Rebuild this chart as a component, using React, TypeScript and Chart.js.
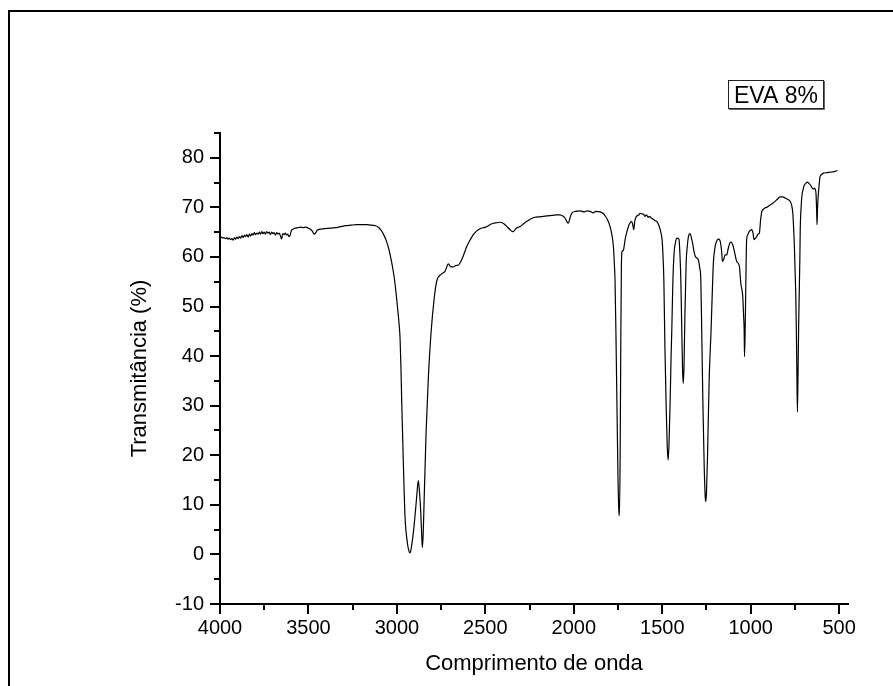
import React, { useEffect, useRef } from "react";
import { Chart, registerables } from "chart.js";

Chart.register(...registerables);

const wavenumber: number[] = [
  4000, 3992, 3985, 3978, 3970, 3962, 3955, 3948, 3940, 3933, 3925, 3918, 3911, 3904, 3897, 3890,
  3883, 3876, 3869, 3862, 3855, 3848, 3841, 3834, 3827, 3820, 3813, 3806, 3799, 3792, 3785, 3778,
  3771, 3764, 3757, 3750, 3743, 3736, 3729, 3722, 3715, 3708, 3701, 3694, 3687, 3680, 3673, 3666,
  3659, 3652, 3645, 3638, 3631, 3624, 3617, 3610, 3603, 3596, 3588, 3575, 3560, 3545, 3530, 3515,
  3500, 3490, 3478, 3468, 3460, 3450, 3435, 3410, 3380, 3350, 3320, 3290, 3260, 3230, 3200, 3170,
  3140, 3120, 3105, 3090, 3075, 3060, 3045, 3030, 3015, 3005, 2995, 2988, 2982, 2977, 2973, 2963, 2954,
  2941, 2933, 2926, 2918, 2907, 2897, 2888, 2879, 2872, 2865, 2860, 2856, 2851, 2846, 2835, 2822,
  2807, 2790, 2775, 2750, 2728, 2709, 2695, 2681, 2666, 2654, 2640, 2626, 2605, 2585, 2568, 2550,
  2530, 2510, 2492, 2470, 2455, 2435, 2417, 2400, 2389, 2375, 2360, 2350, 2342, 2330, 2315, 2304,
  2280, 2260, 2247, 2220, 2190, 2153, 2120, 2100, 2078, 2060, 2049, 2040, 2031, 2022, 2012, 1990,
  1965, 1940, 1925, 1908, 1890, 1875, 1852, 1835, 1823, 1808, 1795, 1785, 1776, 1770, 1767, 1762,
  1756, 1750, 1745, 1742, 1738, 1734, 1731, 1728, 1720, 1717, 1710, 1702, 1690, 1683, 1674, 1668,
  1661, 1655, 1646, 1635, 1625, 1617, 1605, 1598, 1589, 1580, 1572, 1561, 1550, 1540, 1532, 1523,
  1514, 1507, 1501, 1496, 1491, 1485, 1478, 1472, 1467, 1462, 1456, 1450, 1446, 1440, 1433, 1425,
  1417, 1410, 1405, 1400, 1395, 1390, 1385, 1381, 1377, 1372, 1365, 1358, 1352, 1343, 1335, 1327,
  1320, 1314, 1305, 1296, 1288, 1282, 1277, 1270, 1263, 1257, 1254, 1250, 1244, 1235, 1224, 1217,
  1211, 1201, 1192, 1183, 1175, 1169, 1164, 1160, 1152, 1145, 1136, 1127, 1117, 1110, 1102, 1095,
  1088, 1079, 1064, 1056, 1045, 1040, 1037, 1035, 1031, 1027, 1023, 1016, 1009, 1001, 994, 987,
  981, 973, 966, 958, 951, 944, 937, 928, 918, 905, 890, 876, 862, 848, 834, 820,
  805, 790, 777, 769, 762, 757, 753, 749, 745, 740, 736, 732, 729, 726, 722, 720,
  715, 711, 704, 698, 690, 679, 670, 660, 652, 645, 640, 636, 632, 630, 627, 625,
  622, 617, 612, 608, 600, 589, 570, 551, 530, 514, 510,
];

const transmittance: number[] = [
  63.9, 64.0, 63.8, 63.9, 63.7, 63.9, 63.6, 63.8, 63.5, 63.7, 63.4, 63.9, 63.6, 64.0, 63.7, 64.1,
  63.8, 64.3, 63.9, 64.4, 64.1, 64.5, 64.0, 64.6, 64.2, 64.7, 64.4, 64.9, 64.5, 64.8, 64.6, 65.0,
  64.6, 65.1, 64.7, 65.0, 64.6, 65.1, 64.8, 65.0, 64.5, 65.0, 64.7, 64.9, 64.4, 64.9, 64.6, 64.8,
  64.3, 63.6, 64.7, 64.5, 64.8, 64.4, 64.6, 64.1, 64.4, 65.4, 65.6, 65.8, 65.9, 66.0, 65.9, 66.0,
  65.8, 65.6, 65.2, 64.6, 64.8, 65.4, 65.6, 65.7, 65.8, 65.9, 66.1, 66.3, 66.4, 66.5, 66.5, 66.5,
  66.4, 66.3, 66.0, 65.4, 64.5, 63.3, 61.5, 59.0, 55.8, 52.8, 49.3, 46.6, 43.5, 37.5, 31.2, 17.7, 7.6,
  2.4, 0.8, 0.3, 1.5, 4.4, 8.0, 11.7, 14.9, 12.5, 8.4, 4.0, 1.4, 4.5, 11.0, 24.6, 35.9,
  44.7, 51.4, 55.1, 56.5, 57.1, 58.6, 58.0, 58.0, 58.3, 58.3, 59.0, 60.1, 62.1, 63.5, 64.5, 65.2,
  65.7, 65.9, 66.1, 66.6, 66.8, 66.9, 67.0, 66.8, 66.5, 66.0, 65.5, 65.2, 65.1, 65.6, 66.0, 66.1,
  66.8, 67.3, 67.6, 68.0, 68.1, 68.3, 68.4, 68.5, 68.5, 68.2, 67.8, 67.2, 66.8, 67.8, 68.8, 69.2,
  69.3, 69.1, 69.3, 69.2, 68.9, 69.2, 69.1, 68.8, 68.3, 67.4, 66.1, 64.5, 62.1, 58.0, 55.4, 45.0,
  30.0, 15.0, 8.5, 7.8, 20.0, 45.0, 58.0, 61.0, 61.3, 61.8, 63.5, 64.8, 66.3, 66.8, 67.2, 66.7,
  65.5, 67.3, 68.2, 68.4, 68.8, 68.7, 68.6, 68.2, 68.5, 68.0, 68.2, 67.8, 67.6, 67.3, 67.2, 66.7,
  65.8, 64.8, 63.5, 60.5, 55.4, 42.0, 30.0, 22.0, 19.0, 22.0, 30.0, 40.0, 45.3, 55.0, 60.8, 63.0,
  63.8, 63.7, 63.5, 60.5, 55.4, 46.0, 37.0, 34.5, 38.0, 48.0, 58.8, 62.3, 64.1, 64.7, 63.8, 62.5,
  61.0, 60.2, 59.8, 59.4, 57.8, 55.4, 45.3, 30.0, 18.0, 11.5, 10.7, 12.5, 20.0, 35.0, 45.3, 53.0,
  58.8, 62.1, 63.2, 63.6, 63.4, 62.5, 61.0, 59.1, 59.6, 60.4, 60.4, 61.7, 62.9, 63.0, 62.5, 61.6,
  60.4, 59.1, 58.1, 54.7, 52.0, 48.0, 45.3, 39.9, 46.0, 56.0, 63.5, 64.5, 65.1, 65.4, 65.5, 64.8,
  63.5, 63.8, 64.1, 64.6, 64.8, 67.5, 69.2, 69.6, 69.9, 70.1, 70.5, 70.8, 71.2, 71.7, 72.1, 72.1,
  71.9, 71.6, 71.2, 70.5, 68.8, 65.5, 62.1, 57.0, 52.0, 40.0, 28.7, 38.0, 46.0, 52.0, 60.0, 65.5,
  70.0, 72.2, 73.6, 74.4, 74.8, 75.1, 74.8, 74.4, 73.9, 73.7, 73.9, 73.7, 73.2, 72.2, 69.0, 66.5,
  70.0, 72.9, 75.0, 76.2, 76.6, 76.9, 77.0, 77.1, 77.2, 77.4, 77.5,
];

const xMajorTicks: number[] = [4000, 3500, 3000, 2500, 2000, 1500, 1000, 500];
const yMajorTicks: number[] = [-10, 0, 10, 20, 30, 40, 50, 60, 70, 80];
const xMinorTicks: number[] = [3750, 3250, 2750, 2250, 1750, 1250, 750];
const yMinorTicks: number[] = [-5, 5, 15, 25, 35, 45, 55, 65, 75, 85];

const legendLabel = "EVA 8%";
const xTitle = "Comprimento de onda";
const yTitle = "Transmitância (%)";

const FONT = "'Liberation Sans', Arial, sans-serif";

export default function App() {
  const canvasRef = useRef<HTMLCanvasElement | null>(null);

  useEffect(() => {
    const canvas = canvasRef.current;
    if (!canvas) return;

    const decorPlugin = {
      id: "decor",
      beforeDraw(chart: any) {
        const ctx = chart.ctx;
        ctx.save();
        ctx.strokeStyle = "#000";
        ctx.lineWidth = 2;
        ctx.beginPath();
        ctx.moveTo(9, 686);
        ctx.lineTo(9, 11);
        ctx.lineTo(893, 11);
        ctx.stroke();
        ctx.restore();
      },
      afterDraw(chart: any) {
        const ctx = chart.ctx;
        const xs = chart.scales.x;
        const ys = chart.scales.y;
        const area = chart.chartArea;
        ctx.save();
        ctx.strokeStyle = "#000";
        ctx.lineWidth = 2;
        ctx.beginPath();
        const drawY = (v: number, len: number) => {
          const p = Math.round(ys.getPixelForValue(v));
          ctx.moveTo(area.left, p);
          ctx.lineTo(area.left - len, p);
        };
        const drawX = (v: number, len: number) => {
          const p = Math.round(xs.getPixelForValue(v));
          ctx.moveTo(p, area.bottom);
          ctx.lineTo(p, area.bottom + len);
        };
        yMajorTicks.forEach((v) => drawY(v, 10));
        yMinorTicks.forEach((v) => drawY(v, 6));
        xMajorTicks.forEach((v) => drawX(v, 10));
        xMinorTicks.forEach((v) => drawX(v, 6));
        ctx.stroke();

        // legend box
        ctx.lineWidth = 1;
        ctx.strokeStyle = "#222";
        ctx.strokeRect(728.5, 80.5, 95, 28);
        ctx.strokeStyle = "#666";
        ctx.beginPath();
        ctx.moveTo(729, 109.5);
        ctx.lineTo(824.5, 109.5);
        ctx.lineTo(824.5, 81);
        ctx.stroke();
        ctx.fillStyle = "#000";
        ctx.font = `23px ${FONT}`;
        ctx.textAlign = "center";
        ctx.textBaseline = "alphabetic";
        ctx.fillText(legendLabel, 776, 103);
        ctx.restore();
      },
    };

    const points = wavenumber.map((w, i) => ({ x: w, y: transmittance[i] }));

    const chart = new Chart(canvas, {
      type: "line",
      data: {
        datasets: [
          {
            data: points,
            borderColor: "#000",
            borderWidth: 1.2,
            pointRadius: 0,
            fill: false,
            cubicInterpolationMode: "monotone",
          },
        ],
      },
      options: {
        animation: false,
        responsive: false,
        maintainAspectRatio: false,
        events: [],
        layout: { padding: { left: 0, top: 133, right: 45, bottom: 0 } },
        plugins: {
          legend: { display: false },
          tooltip: { enabled: false },
          title: { display: false },
        },
        scales: {
          x: {
            type: "linear",
            min: 450,
            max: 4000,
            reverse: true,
            afterFit(scale: any) {
              scale.height = 82;
            },
            afterBuildTicks(scale: any) {
              scale.ticks = xMajorTicks.map((v) => ({ value: v }));
            },
            ticks: {
              color: "#000",
              font: { family: FONT, size: 20 },
              padding: 2,
              maxRotation: 0,
              autoSkip: false,
              callback: (v: any) => String(v),
            },
            grid: {
              display: true,
              drawOnChartArea: false,
              color: "rgba(0,0,0,0)",
              tickLength: 10,
            },
            border: { display: true, color: "#000", width: 2 },
            title: {
              display: true,
              text: xTitle,
              color: "#000",
              font: { family: FONT, size: 22 },
              padding: { top: 0, bottom: 9 },
            },
          },
          y: {
            type: "linear",
            min: -10,
            max: 85,
            afterFit(scale: any) {
              scale.width = 220;
            },
            afterBuildTicks(scale: any) {
              scale.ticks = yMajorTicks.map((v) => ({ value: v }));
            },
            ticks: {
              color: "#000",
              font: { family: FONT, size: 20 },
              padding: 6,
              autoSkip: false,
              callback: (v: any) => String(v),
            },
            grid: {
              display: true,
              drawOnChartArea: false,
              color: "rgba(0,0,0,0)",
              tickLength: 10,
            },
            border: { display: true, color: "#000", width: 2 },
            title: {
              display: true,
              text: yTitle,
              color: "#000",
              font: { family: FONT, size: 22 },
              padding: { top: 127, bottom: 0 },
            },
          },
        },
      },
      plugins: [decorPlugin],
    });

    return () => chart.destroy();
  }, []);

  return (
    <div style={{ position: "fixed", left: 0, top: 0, width: 893, height: 686, background: "#fff" }}>
      <canvas ref={canvasRef} width={893} height={686} style={{ width: 893, height: 686, display: "block" }} />
    </div>
  );
}
